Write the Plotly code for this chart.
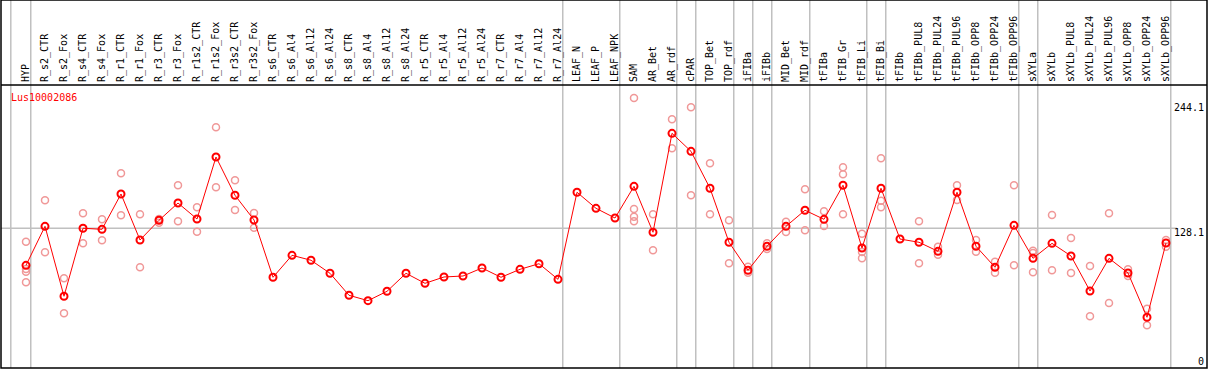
import plotly.graph_objects as go

categories = ["HYP", "R_s2_CTR", "R_s2_Fox", "R_s4_CTR", "R_s4_Fox", "R_r1_CTR", "R_r1_Fox",
              "R_r3_CTR", "R_r3_Fox", "R_r1s2_CTR", "R_r1s2_Fox", "R_r3s2_CTR", "R_r3s2_Fox",
              "R_s6_CTR", "R_s6_Al4", "R_s6_Al12", "R_s6_Al24", "R_s8_CTR", "R_s8_Al4", "R_s8_Al12",
              "R_s8_Al24", "R_r5_CTR", "R_r5_Al4", "R_r5_Al12", "R_r5_Al24", "R_r7_CTR", "R_r7_Al4",
              "R_r7_Al12", "R_r7_Al24", "LEAF_N", "LEAF_P", "LEAF_NPK", "SAM", "AR_Bet", "AR_rdf",
              "cPAR", "TOP_Bet", "TOP_rdf", "iFIBa", "iFIBb", "MID_Bet", "MID_rdf", "tFIBa",
              "tFIB_Gr", "tFIB_Li", "tFIB_Bi", "tFIBb", "tFIBb_PUL8", "tFIBb_PUL24", "tFIBb_PUL96",
              "tFIBb_OPP8", "tFIBb_OPP24", "tFIBb_OPP96", "sXYLa", "sXYLb", "sXYLb_PUL8",
              "sXYLb_PUL24", "sXYLb_PUL96", "sXYLb_OPP8", "sXYLb_OPP24", "sXYLb_OPP96"]

mean_values = [93.7, 129.9, 65.0, 128.1, 127.1, 159.9, 117.2, 135.5, 151.5, 136.7, 194.2, 158.7,
               135.8, 82.6, 103.0, 98.4, 86.3, 65.9, 60.9, 69.6, 86.3, 77.0, 82.9, 83.8, 91.2,
               82.6, 90.0, 95.2, 80.7, 161.5, 146.6, 137.6, 167.0, 124.4, 216.2, 199.5, 165.2,
               115.1, 89.1, 111.4, 129.9, 144.8, 136.4, 168.0, 109.8, 165.2, 118.1, 115.1, 106.7,
               161.5, 111.4, 91.9, 130.8, 100.2, 114.1, 102.4, 69.9, 100.2, 86.6, 45.5, 114.4]

replicate_values = [
    [115.6, 90.3, 87.8, 77.9], [154.0, 105.8], [81.7, 49.2], [142.0, 114.1], [136.4, 116.9],
    [179.1, 140.1], [141.1, 91.9], [136.7, 133.3], [168.0, 134.6], [147.5, 124.9],
    [221.8, 166.1], [172.6, 145.0], [142.3, 128.6],
    [], [], [], [], [], [], [], [], [], [], [], [], [], [], [], [], [], [], [],
    [249.0, 146.0, 138.8, 134.6], [141.1, 107.6], [229.2, 202.3], [240.3, 158.7],
    [188.4, 141.1], [135.5, 95.6], [92.4, 86.9], [114.1, 108.9], [134.2, 124.6],
    [164.3, 126.2], [143.8, 130.2], [184.7, 178.2, 141.1], [123.1, 106.1, 100.2],
    [193.0, 153.7, 147.6], [], [134.6, 95.6], [111.0, 103.6], [168.0, 154.3],
    [117.2, 106.3], [97.1, 86.9], [168.0, 93.7], [107.3, 105.1, 87.2], [140.4, 89.1],
    [119.1, 86.6], [93.1, 46.4], [142.0, 58.7], [90.0, 83.8], [53.5, 38.0], [117.2, 111.0],
]

group_starts = ["HYP", "R_s2_CTR", "LEAF_N", "SAM", "cPAR", "TOP_Bet", "iFIBa", "iFIBb",
                "MID_Bet", "tFIBa", "tFIB_Bi", "tFIBb", "sXYLa", "sXYLb"]

y_tick_values = [0, 128.1, 244.1]
y_tick_labels = ["0", "128.1", "244.1"]
reference_line = 128.1
gene_name = "Lus10002086"

FONT = "DejaVu Sans Mono"
W, H = 1209, 370
ML, MR, MT, MB = 1, 2, 85, 2
plot_h = H - MT - MB
plot_w = W - ML - MR
top_paper = (H - MB) / plot_h

rep_x, rep_y = [], []
for cat, reps in zip(categories, replicate_values):
    for v in reps:
        rep_x.append(cat)
        rep_y.append(v)

fig = go.Figure()
fig.add_trace(go.Scatter(
    x=rep_x, y=rep_y, mode="markers",
    marker=dict(symbol="circle-open", size=7, color="#f09898", line=dict(width=1.5, color="#f09898")),
    showlegend=False, hoverinfo="skip"))
fig.add_trace(go.Scatter(
    x=categories, y=mean_values, mode="lines+markers",
    line=dict(color="#ff0000", width=1),
    marker=dict(symbol="circle-open", size=7, color="#ff0000", line=dict(width=2, color="#ff0000")),
    showlegend=False))

shapes = []
for name in group_starts:
    idx = categories.index(name)
    pos = idx - 0.75 if idx > 0 else idx - 0.8
    shapes.append(dict(type="line", xref="x", yref="paper", x0=pos, x1=pos, y0=0, y1=top_paper,
                       line=dict(color="#c0c0c0", width=1.5), layer="below"))
end_pos = len(categories) - 0.75
shapes.append(dict(type="line", xref="x", yref="paper", x0=end_pos, x1=end_pos, y0=0, y1=top_paper,
                   line=dict(color="#c0c0c0", width=1.5), layer="below"))
shapes.append(dict(type="line", xref="paper", yref="y", x0=0, x1=(1177 - ML) / plot_w,
                   y0=reference_line, y1=reference_line,
                   line=dict(color="#c0c0c0", width=1.5), layer="below"))
shapes.append(dict(type="rect", xref="paper", yref="paper", x0=0, x1=1, y0=0, y1=top_paper,
                   line=dict(color="black", width=1.5)))
shapes.append(dict(type="line", xref="paper", yref="paper", x0=0, x1=1, y0=1, y1=1,
                   line=dict(color="black", width=1.5)))

annotations = [dict(text=gene_name, xref="paper", yref="paper", x=(9 - ML) / plot_w,
                    y=(H - MB - 97.5) / plot_h, xanchor="left", yanchor="middle", showarrow=False,
                    font=dict(family=FONT, size=10, color="#ff0000"))]
for v, lab in zip(y_tick_values, y_tick_labels):
    annotations.append(dict(text=lab, xref="paper", yref="y", x=(1206 - ML) / plot_w, y=v,
                            xanchor="right", yanchor="middle", yshift=(-4 if v > 0 else 4.5),
                            showarrow=False, font=dict(family=FONT, size=10, color="black")))

x_left = (ML - 26) / 19.0
x_right = (W - MR - 26) / 19.0
val_per_px = 1 / 1.0776
y_bottom = (366.3 - (H - MB)) * val_per_px
y_top = (366.3 - MT) * val_per_px

fig.update_layout(
    width=W, height=H,
    margin=dict(l=ML, r=MR, t=MT, b=MB, pad=0, autoexpand=False),
    paper_bgcolor="white", plot_bgcolor="white",
    shapes=shapes, annotations=annotations,
    xaxis=dict(type="category", categoryorder="array", categoryarray=categories,
               side="top", range=[x_left, x_right], tickmode="array",
               tickvals=categories, ticktext=categories, tickangle=-90, showgrid=False,
               zeroline=False, showline=False, ticks="", ticklabelstandoff=2, automargin=False,
               tickfont=dict(family=FONT, size=10, color="black"), fixedrange=True),
    yaxis=dict(range=[y_bottom, y_top], showgrid=False, zeroline=False, showline=False,
               showticklabels=False, ticks="", fixedrange=True, automargin=False),
    showlegend=False,
)

fig.write_html("out.html", config={"displayModeBar": False},
               post_script="document.body.style.margin='0px';document.body.style.padding='0px';")
